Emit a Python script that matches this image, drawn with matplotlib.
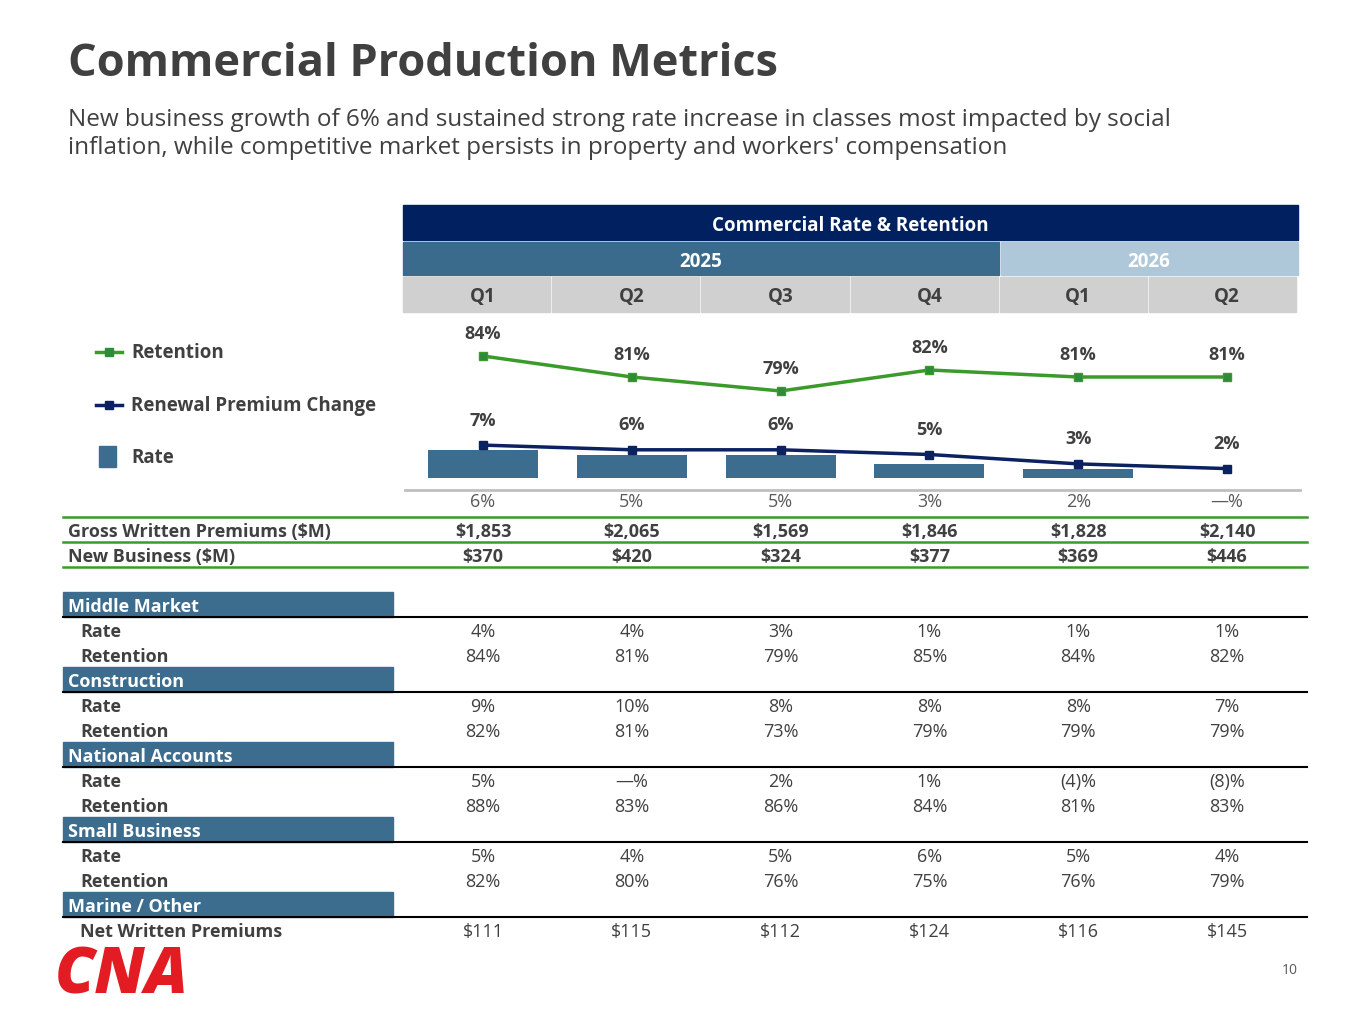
import matplotlib.pyplot as plt
from matplotlib.patches import Rectangle

plt.rcParams['font.family'] = ['Open Sans', 'DejaVu Sans']

quarters = ['Q1', 'Q2', 'Q3', 'Q4', 'Q1', 'Q2']
rate = [6, 5, 5, 3, 2, 0]
rate_labels = ['6%', '5%', '5%', '3%', '2%', '—%']
rpc = [7, 6, 6, 5, 3, 2]
retention = [84, 81, 79, 82, 81, 81]
gwp = ['$1,853', '$2,065', '$1,569', '$1,846', '$1,828', '$2,140']
new_business = ['$370', '$420', '$324', '$377', '$369', '$446']
sections = [
    ('Middle Market', [('Rate', ['4%', '4%', '3%', '1%', '1%', '1%']),
                       ('Retention', ['84%', '81%', '79%', '85%', '84%', '82%'])]),
    ('Construction', [('Rate', ['9%', '10%', '8%', '8%', '8%', '7%']),
                      ('Retention', ['82%', '81%', '73%', '79%', '79%', '79%'])]),
    ('National Accounts', [('Rate', ['5%', '—%', '2%', '1%', '(4)%', '(8)%']),
                           ('Retention', ['88%', '83%', '86%', '84%', '81%', '83%'])]),
    ('Small Business', [('Rate', ['5%', '4%', '5%', '6%', '5%', '4%']),
                        ('Retention', ['82%', '80%', '76%', '75%', '76%', '79%'])]),
    ('Marine / Other', [('Net Written Premiums', ['$111', '$115', '$112', '$124', '$116', '$145'])]),
]

W, H = 1365, 1024
NAVY = '#0B2160'
STEEL = '#3D6D8E'
GREEN = '#3A9A2A'
TXT = '#404040'
xs = [483 + 148.8 * i for i in range(6)]

fig = plt.figure(figsize=(W / 100, H / 100), dpi=100)
bg = fig.add_axes([0, 0, 1, 1])
bg.set_xlim(0, W)
bg.set_ylim(H, 0)
bg.axis('off')

bg.text(68, 64, 'Commercial Production Metrics', fontsize=32.5, fontweight='bold', color=TXT, va='center')
bg.text(68, 134, "New business growth of 6% and sustained strong rate increase in classes most impacted by social\n"
        "inflation, while competitive market persists in property and workers' compensation",
        fontsize=17.5, color=TXT, va='center', linespacing=1.2)

# header bands
bg.add_patch(Rectangle((403, 205), 895, 35, color='#002060'))
bg.text(850, 226, 'Commercial Rate & Retention', color='white', fontsize=13.5, fontweight='bold', ha='center', va='center')
bg.add_patch(Rectangle((403, 242), 596, 33, color='#3A6B8C'))
bg.add_patch(Rectangle((1001, 242), 297, 33, color='#AFC8D9'))
bg.text(701, 262, '2025', color='white', fontsize=13.5, fontweight='bold', ha='center', va='center')
bg.text(1149, 262, '2026', color='white', fontsize=13.5, fontweight='bold', ha='center', va='center')
for i, q in enumerate(quarters):
    x0 = 403 + 149.2 * i
    bg.add_patch(Rectangle((x0, 277), 147.2, 35, color='#D0D0D0'))
    bg.text(xs[i], 297, q, color=TXT, fontsize=13.5, fontweight='bold', ha='center', va='center')

# chart
ax = fig.add_axes([405 / W, 1 - 490 / H, 895 / W, 170 / H])
ax.set_xlim(-78 / 148.8, (1300 - 483) / 148.8)
ax.set_ylim(-12 / 4.7, 158 / 4.7)
ax.axis('off')
idx = list(range(6))
ax.bar(idx, rate, width=0.74, color=STEEL)
ax.plot(idx, rpc, color=NAVY, lw=2.5, marker='s', ms=6)
for i, v in enumerate(rpc):
    ax.annotate(f'{v}%', (i, v), xytext=(0, 14), textcoords='offset points', ha='center',
                fontsize=13, fontweight='bold', color=TXT)
ax2 = ax.twinx()
ax2.set_ylim(84 - 134 / 7, 84 + 36 / 7)
ax2.axis('off')
ax2.plot(idx, retention, color=GREEN, lw=2.5, marker='s', ms=6, markerfacecolor='#2E8B3A')
for i, v in enumerate(retention):
    ax2.annotate(f'{v}%', (i, v), xytext=(0, 12), textcoords='offset points', ha='center',
                 fontsize=13, fontweight='bold', color=TXT)
bg.plot([405, 1300], [490, 490], color='#BFBFBF', lw=2)
for i, lab in enumerate(rate_labels):
    bg.text(xs[i], 502, lab, fontsize=13, color='#595959', ha='center', va='center')

# legend
bg.plot([96, 122], [352, 352], color=GREEN, lw=2.5)
bg.plot([109], [352], 's', color='#2E8B3A', ms=6)
bg.text(131, 353, 'Retention', fontsize=13.5, fontweight='bold', color=TXT, va='center')
bg.plot([96, 122], [405, 405], color=NAVY, lw=2.5)
bg.plot([109], [405], 's', color=NAVY, ms=6)
bg.text(131, 406, 'Renewal Premium Change', fontsize=13.5, fontweight='bold', color=TXT, va='center')
bg.add_patch(Rectangle((99, 446), 17, 21, color=STEEL))
bg.text(131, 458, 'Rate', fontsize=13.5, fontweight='bold', color=TXT, va='center')

# GWP / NB
for y in [517, 542, 567]:
    bg.plot([63, 1307], [y, y], color=GREEN, lw=1.8)
for y, name, vals in [(532, 'Gross Written Premiums ($M)', gwp), (557, 'New Business ($M)', new_business)]:
    bg.text(68, y, name, fontsize=13, fontweight='bold', color=TXT, va='center')
    for i, v in enumerate(vals):
        bg.text(xs[i], y, v, fontsize=13, fontweight='bold', color=TXT, ha='center', va='center')

# segments
y = 607
for title, rows in sections:
    bg.add_patch(Rectangle((63, y - 15), 330, 25, color=STEEL))
    bg.text(68, y, title, fontsize=13, fontweight='bold', color='white', va='center')
    bg.plot([63, 1307], [y + 10, y + 10], color='black', lw=1.5)
    y += 25
    for name, vals in rows:
        bg.text(80, y, name, fontsize=13, fontweight='bold', color=TXT, va='center')
        for i, v in enumerate(vals):
            bg.text(xs[i], y, v, fontsize=13, color=TXT, ha='center', va='center')
        y += 25

bg.text(55, 993, 'CNA', fontsize=46, fontweight='heavy', fontstyle='italic', color='#E31B23', va='baseline')
bg.text(1290, 971, '10', fontsize=10, color='#595959', ha='center', va='center')

fig.savefig('out.png', dpi=100)
